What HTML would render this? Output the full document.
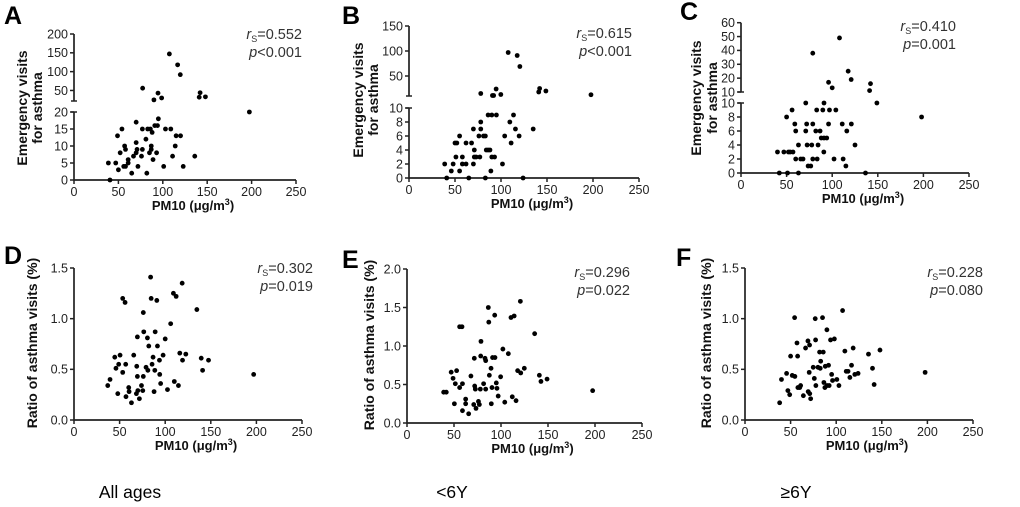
<!DOCTYPE html>
<html><head><meta charset="utf-8"><style>
html,body{margin:0;padding:0;background:#fff}
svg{display:block;font-family:"Liberation Sans",Arial,sans-serif}
</style></head><body>
<svg id="fig" width="1020" height="507" viewBox="0 0 1020 507"></svg>
<script>
// ---- data ----
const xTicks=[0,50,100,150,200,250];
const aX=[107.4,116.7,119.7,77.3,94.6,90,98.7,141,142,148,197.5,38.7,40.5,47,49,50,52,54,56,57,58,58,61,61,65,67,70,70,70,71,72,76,77,77,81,82,83,85,86,87,87,88,89,91,93,94,95,101,103,109,111,114,115,120,123,136];
const aY=[147,118,92,56,43,25,30,32,44,33,20,5,0,5,13,3,8,15,4,10,9,4,6,5,2,7,17,11,8,9,4,7,9,15,12,2,15,8,15,9,10,14,6,16,8,16,18,4,15,15,7,10,13,13,4,7];
const bX=[107.8,117.6,120.5,78,94.7,90.7,92,99.8,141,142,148.8,197.8,38.8,41,46,48,50,52,51,55,55,58,58,62,62,65,68,70,70,71,71,73,76,77,78,78,81,83,83,84,86,86,88,89,90,90,93,95,101.6,104,109.6,111,113.6,115.7,119.7,124,135];
const bY=[97,91,69,15,24,11,11,13,18,25,20,12.5,2,0,1,2,5,5,3,6,1,3,2,2,5,0,5,7,2,4,3,3,6,3,8,7,6,6,0,4,4,9,4,1,9,3,3,9,2,6,8,5,9,7,6,0,7];
const cX=[108,78.7,117.5,120.8,96,100,142,141,149,198,40,42,47,50,51,52,54,56,57,59,60,60,63,63,65.5,68,71,71,72,72.5,73.6,76.5,77.6,78.7,78.7,82,83,84.5,83.5,86.7,88,89.7,91,91,94,90.8,96,97,102,104,111,112,115,116,121,125,136.5];
const cY=[49,38,25,19,17,13,16,11,10,8,3,0,3,8,0,3,3,9,3,7,6,2,4,0,2,2,10,6,7,4,1,1,4,7,2,6,9,4,2,6,5,9,10,5,5,3,7,9,2,9,7,2,1,6,7,4,0];
const dX=[37,39.5,44.7,46,48,49,50.5,53.4,53.4,56,56.7,57,60,60.4,63,65.5,68.4,68.8,69.5,69.5,70,71.7,74,75.4,76,76,76.5,79,80.5,81,82,84,84.6,85.6,86.7,87.8,88.6,89,90.8,91.5,93.7,94,95,97.7,100,102.5,106,109,110,112,114.5,116,118.6,119,122.6,134.7,139.5,141,147.5,197];
const dY=[0.34,0.40,0.62,0.51,0.26,0.55,0.64,0.47,1.20,1.16,0.55,0.23,0.32,0.28,0.17,0.64,0.26,0.53,0.82,0.43,0.29,0.21,0.34,0.29,0.43,1.06,0.87,0.52,0.81,0.49,0.73,1.41,1.20,0.55,0.62,0.28,0.49,0.87,1.18,0.73,0.59,0.45,0.36,0.64,0.80,0.30,0.95,1.25,0.38,1.22,0.34,0.66,1.35,0.59,0.65,1.09,0.61,0.49,0.59,0.45];
const eX=[39,41.8,47,49,50.4,51.4,52.8,56,56,58.5,59,59,62.4,62.4,65.6,68,71,71.6,72,72.7,73.4,76,77,78,78.4,78.7,81.5,83,83.7,83.7,86.5,87,87.6,89.4,89.7,90.4,91,93.3,93.6,95,95.7,97,99.6,102,104,107.8,110.6,112,114,116,117.7,120.6,121,124.8,135.8,140.8,142.5,149,197.5];
const eY=[0.40,0.40,0.66,0.58,0.25,0.51,0.68,1.25,0.46,1.25,0.51,0.16,0.31,0.25,0.12,0.61,0.24,0.84,0.48,0.44,0.19,0.28,0.24,0.44,0.87,1.06,0.51,0.84,0.81,0.44,1.50,1.31,0.62,0.71,0.25,0.46,0.85,1.40,0.85,0.52,0.45,0.35,0.60,0.96,0.27,0.90,1.37,0.34,1.39,0.29,0.68,1.58,0.65,0.71,1.16,0.62,0.54,0.57,0.42];
const fX=[38,40,45.6,47,49,50,51.8,54.4,54.7,57,57.7,58,60,61,64,66.4,69,69.3,70.4,70.8,71,72,74.8,76,77,77.4,77.7,80,81.8,82.5,83,85,85.8,86.5,87.6,88,89.8,90,91.6,92.3,93.8,95,96,98,100.7,103,107,109.5,111,113,115,116.8,118.6,120.4,124,135.4,139.8,141.6,148,197.5];
const fY=[0.17,0.40,0.46,0.29,0.25,0.63,0.44,1.01,0.43,0.76,0.63,0.32,0.32,0.34,0.24,0.71,0.78,0.28,0.47,0.74,0.26,0.21,0.52,0.41,1.00,0.79,0.34,0.52,0.67,0.51,0.58,1.01,0.67,0.37,0.32,0.53,0.89,0.34,0.54,0.34,0.79,0.45,0.39,0.80,0.40,0.34,1.08,0.68,0.48,0.48,0.42,0.54,0.71,0.45,0.46,0.65,0.51,0.35,0.69,0.47];
const abLowTicks=[0,5,10,15,20], aUpTicks=[50,100,150,200];
const bLowTicks=[0,2,4,6,8,10], bUpTicks=[50,100,150];
const cLowTicks=[0,2,4,6,8,10], cUpTicks=[10,20,30,40,50,60];
const ratioTicks15=[0,0.5,1.0,1.5], ratioTicks20=[0,0.5,1.0,1.5,2.0];

const NS="http://www.w3.org/2000/svg";
const svg=document.getElementById('fig');
function el(tag,attrs,parent,text){const e=document.createElementNS(NS,tag);for(const k in attrs)e.setAttribute(k,attrs[k]);if(text!==undefined)e.textContent=text;(parent||svg).appendChild(e);return e;}
const INK="#222";

function panel(cfg){
  const g=el('g',{},svg);
  
  
  const sx=v=>cfg.x0+(v-0)/250*(cfg.x1-cfg.x0);
  function sy(v){
    for(const s of cfg.segs){ if(v>=s.dom[0]-1e-9 && (v<=s.dom[1]+1e-9 || s===cfg.segs[cfg.segs.length-1])){
      return s.px[0]-(v-s.dom[0])/(s.dom[1]-s.dom[0])*(s.px[0]-s.px[1]);}}
    const up=cfg.segs[cfg.segs.length-1];
    return up.px[0];
  }
  const L=el('text',{x:cfg.lx,y:cfg.ly,'font-size':25,'font-weight':'bold',fill:'#000'},g,cfg.id);
  
  
  const xa=el('line',{x1:cfg.x0,x2:cfg.x1,y1:cfg.segs[0].px[0],y2:cfg.segs[0].px[0],stroke:INK,'stroke-width':1.7},g);
  
  
  const yb=cfg.segs[0].px[0];
  xTicks.forEach(t=>{
    el('line',{x1:sx(t),x2:sx(t),y1:yb,y2:yb+4,stroke:INK,'stroke-width':1.5},g);
    const tl=el('text',{x:sx(t),y:yb+16,'font-size':12.5,'text-anchor':'middle',fill:INK},g,String(t));
    
    
  });
  cfg.segs.forEach((s,i)=>{
    const ya=el('line',{x1:cfg.x0,x2:cfg.x0,y1:s.px[0]+(i===0?0.8:0),y2:s.px[1],stroke:INK,'stroke-width':1.7},g);
    
    
    if(cfg.segs.length>1){
      if(i===0) el('line',{x1:cfg.x0-3,x2:cfg.x0+3,y1:s.px[1],y2:s.px[1],stroke:INK,'stroke-width':1.5},g);
      else el('line',{x1:cfg.x0-3,x2:cfg.x0+3,y1:s.px[0],y2:s.px[0],stroke:INK,'stroke-width':1.5},g);
    }
    s.ticks.forEach(t=>{
      const y=s.px[0]-(t-s.dom[0])/(s.dom[1]-s.dom[0])*(s.px[0]-s.px[1]);
      el('line',{x1:cfg.x0-4,x2:cfg.x0,y1:y,y2:y,stroke:INK,'stroke-width':1.5},g);
      const tl=el('text',{x:cfg.x0-6,y:y+4.3,'font-size':12.5,'text-anchor':'end',fill:INK},g,s.fmt?t.toFixed(1):String(t));
      
      
    });
  });
  const cyT=cfg.ytc;
  cfg.ytitle.forEach((line,i)=>{
    const tx=cfg.ytx[i];
    const t=el('text',{x:tx,y:cyT,'font-size':cfg.ytfs||14,'font-weight':'bold','text-anchor':'middle',fill:'#111',transform:`rotate(-90 ${tx} ${cyT})`},g,line);
    
    
  });
  const xt=el('text',{x:(cfg.x0+cfg.x1)/2+8,y:yb+30,'font-size':13,'font-weight':'bold','text-anchor':'middle',fill:'#111'},g);
  
  
  el('tspan',{},xt,'PM10  (μg/m');
  el('tspan',{dy:-5,'font-size':9},xt,'3');
  el('tspan',{dy:5},xt,')');
  cfg.xs.forEach((v,i)=>{
    const c=el('circle',{cx:sx(v),cy:sy(cfg.ys[i]),r:2.4,fill:'#000'},g);
    
    
  });
  const r=el('text',{x:cfg.sx,y:cfg.sy,'font-size':14.5,'text-anchor':'end',fill:'#333'},g);
  
  
  el('tspan',{'font-style':'italic'},r,'r');
  el('tspan',{'font-size':9,dy:3},r,'S');
  el('tspan',{dy:-3},r,'='+cfg.r);
  const p=el('text',{x:cfg.sx,y:cfg.sy+18,'font-size':14.5,'text-anchor':'end',fill:'#333'},g);
  
  
  el('tspan',{'font-style':'italic'},p,'p');
  el('tspan',{},p,cfg.p);
}

panel({id:'A',lx:4,ly:24,x0:74,x1:296,xs:aX,ys:aY,
  segs:[{dom:[0,20],px:[180,112],ticks:abLowTicks},{dom:[22,200],px:[101,34],ticks:aUpTicks}],
  ytitle:['Emergency visits','for asthma'],ytx:[27,42],ytc:108,sx:302,sy:39,r:'0.552',p:'<0.001'});
panel({id:'B',lx:342,ly:24,x0:409,x1:639,xs:bX,ys:bY,
  segs:[{dom:[0,10],px:[178,108],ticks:bLowTicks},{dom:[10,150],px:[96,26],ticks:bUpTicks}],
  ytitle:['Emergency visits','for asthma'],ytx:[363,378],ytc:100,sx:632,sy:38,r:'0.615',p:'<0.001'});
panel({id:'C',lx:680,ly:20,x0:741,x1:969,xs:cX,ys:cY,
  segs:[{dom:[0,10],px:[173,103],ticks:cLowTicks},{dom:[10,60],px:[92,22.7],ticks:cUpTicks}],
  ytitle:['Emergency visits','for asthma'],ytx:[701,717],ytc:98,sx:956,sy:31,r:'0.410',p:'=0.001'});
panel({id:'D',lx:4,ly:264,x0:74,x1:302,xs:dX,ys:dY,
  segs:[{dom:[0,1.5],px:[420,268],ticks:ratioTicks15,fmt:1}],
  ytitle:['Ratio of  asthma visits (%)'],ytx:[37],ytc:343,sx:313,sy:273,r:'0.302',p:'=0.019'});
panel({id:'E',lx:342,ly:268,x0:407,x1:642,xs:eX,ys:eY,
  segs:[{dom:[0,2],px:[423,269],ticks:ratioTicks20,fmt:1}],
  ytitle:['Ratio of  asthma visits (%)'],ytx:[374],ytc:345,sx:630,sy:277,r:'0.296',p:'=0.022'});
panel({id:'F',lx:676,ly:266,x0:745,x1:973,xs:fX,ys:fY,
  segs:[{dom:[0,1.5],px:[420,268],ticks:ratioTicks15,fmt:1}],
  ytitle:['Ratio of  asthma visits (%)'],ytx:[711],ytc:343,sx:983,sy:277,r:'0.228',p:'=0.080'});

[['All ages',130,'label-all-ages'],['<6Y',452,'label-under-6y'],['≥6Y',796,'label-6y-and-over']].forEach(a=>{
  const t=el('text',{x:a[1],y:498,'font-size':17.5,'text-anchor':'middle',fill:'#000'},svg,a[0]);
  
  
});
</script>
</body></html>
